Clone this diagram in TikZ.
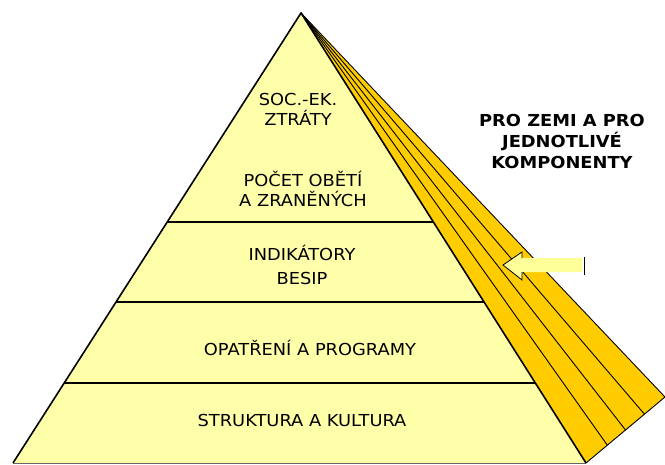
\documentclass[tikz,border=0pt]{standalone}
\usepackage{fontspec}
\setmainfont{DejaVu Sans}
\newfontfamily\widefont[FakeStretch=1.08]{DejaVu Sans}
\usetikzlibrary{calc}
\definecolor{pyr}{HTML}{FFFFAA}
\definecolor{gold}{HTML}{FFCC00}
\definecolor{arr}{HTML}{FFFF99}
\begin{document}
\begin{tikzpicture}[x=1pt,y=-1pt,
  lbl/.style={font=\widefont\fontsize{16.5}{20}\selectfont, align=center, inner sep=0pt},
  rlbl/.style={font=\widefont\bfseries\fontsize{16.5}{21}\selectfont, align=center, inner sep=0pt},
  edge/.style={line width=1.6pt, line join=round},
  fanline/.style={line width=0.9pt},
  layerline/.style={line width=1.2pt}]
\useasboundingbox (0,0) rectangle (665,464);
\coordinate (A) at (301,13);
\coordinate (L) at (13,463);
\coordinate (R) at (586,463);
\coordinate (F) at (665,397);
% fan
\fill[gold] (A)--(F)--(R)--cycle;
\foreach \t in {0.27,0.5,0.74} \draw[fanline] (A) -- ($(R)!\t!(F)$);
\draw[fanline, line join=round] (A)--(F)--(R);
% pyramid
\fill[pyr] (A)--(R)--(L)--cycle;
\foreach \t in {0.4644,0.6422,0.8222}
  \draw[layerline] ($(A)!\t!(L)$) -- ($(A)!\t!(R)$);
\draw[line width=0.6pt, black!60] (L)--(R);
\draw[edge] (L)--(A)--(R);
% arrow
\fill[arr] (503,265)--(522,252)--(522,258)--(582,258)--(582,272)--(522,272)--(522,280)--cycle;
\draw[line width=0.8pt] (522,258)--(522,252)--(503,265)--(522,280)--(522,272);
\draw[line width=1pt] (584,257)--(584,275);
% labels
\node[lbl] (t1) at (298,109) {SOC.-EK.\\ZTRÁTY};
\node[lbl] (t2) at (303,189) {POČET OBĚTÍ\\A ZRANĚNÝCH};
\node[lbl, font=\widefont\fontsize{16.5}{24}\selectfont] (t3) at (302,265) {INDIKÁTORY\\BESIP};
\node[lbl] (t4) at (310,348) {OPATŘENÍ A PROGRAMY};
\node[lbl] (t5) at (302,420) {STRUKTURA A KULTURA};
\node[rlbl] (t6) at (562,141) {PRO ZEMI A PRO\\JEDNOTLIVÉ\\KOMPONENTY};
\end{tikzpicture}
\end{document}
